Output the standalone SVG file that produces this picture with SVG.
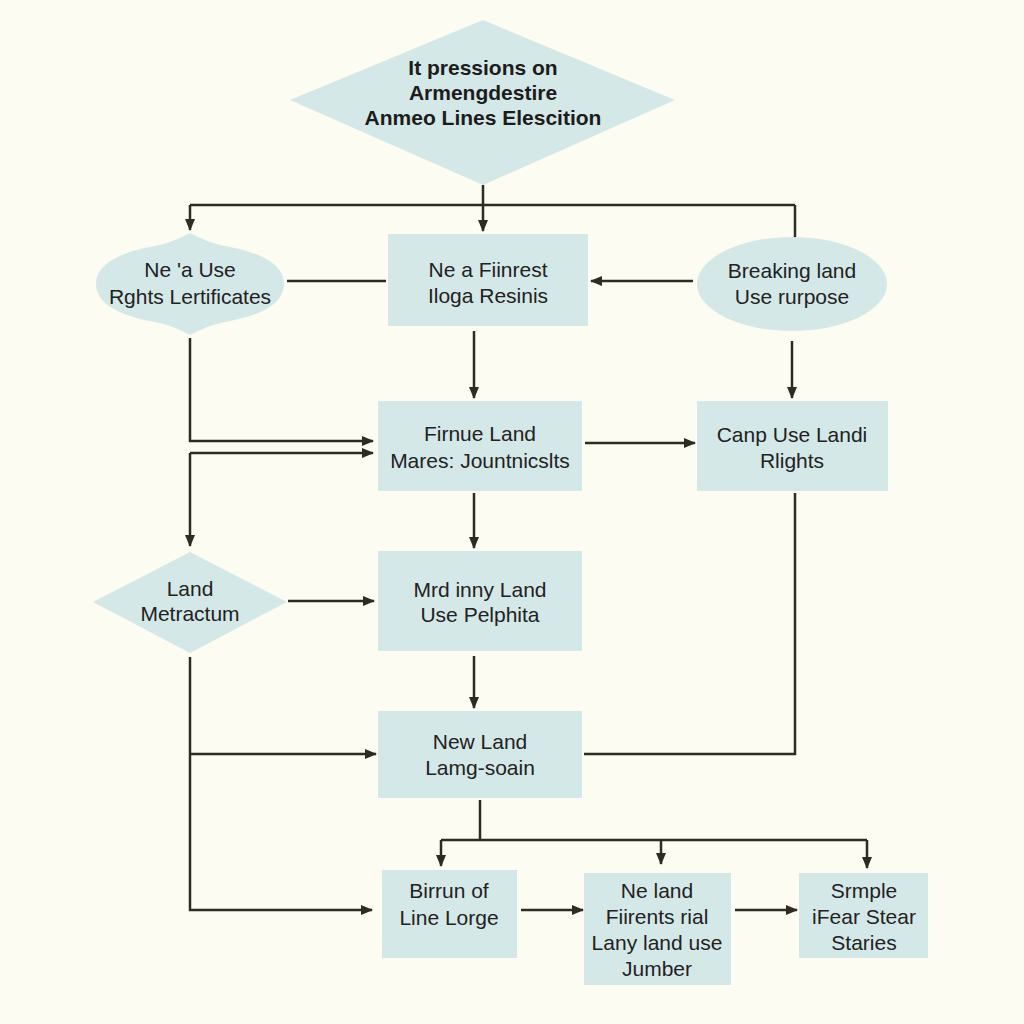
<svg xmlns="http://www.w3.org/2000/svg" width="1024" height="1024" viewBox="0 0 1024 1024">
<defs>
<marker id="ah" viewBox="0 0 12 10" refX="11" refY="5" markerWidth="12" markerHeight="10" markerUnits="userSpaceOnUse" orient="auto">
<path d="M0,0 L12,5 L0,10 Z" fill="#2e2a24"/>
</marker>
<style>
.n{fill:#d5e8e8;stroke:none}
.t{font-family:"Liberation Sans",Arial,sans-serif;font-size:21px;fill:#222;text-anchor:middle}
.tb{font-family:"Liberation Sans",Arial,sans-serif;font-size:21px;font-weight:bold;fill:#1c1c1c;text-anchor:middle}
.c{fill:none;stroke:#2e2a24;stroke-width:2.5}
.a{marker-end:url(#ah)}
</style>
</defs>
<rect width="1024" height="1024" fill="#fcfcf3"/>
<g id="connectors">
<path class="c a" d="M483,185 V231"/>
<path class="c a" d="M190,205 H795 M190,205 V230"/>
<path class="c" d="M795,205 V238"/>
<path class="c" d="M287,281 H386"/>
<path class="c a" d="M693,281 H591"/>
<path class="c a" d="M474,331 V398"/>
<path class="c a" d="M792,341 V398"/>
<path class="c a" d="M190,338 V441 H373"/>
<path class="c a" d="M190,453 H373"/>
<path class="c a" d="M190,453 V546"/>
<path class="c a" d="M585,443 H695"/>
<path class="c" d="M795,493 V754 H584"/>
<path class="c a" d="M474,493 V548"/>
<path class="c a" d="M288,601 H374"/>
<path class="c a" d="M474,656 V708"/>
<path class="c a" d="M190,657 V910 H372"/>
<path class="c a" d="M190,754 H376"/>
<path class="c" d="M480,800 V840 M441,840 H867"/>
<path class="c a" d="M441,840 V866"/>
<path class="c a" d="M661,840 V864"/>
<path class="c a" d="M867,840 V868"/>
<path class="c a" d="M521,910 H583"/>
<path class="c a" d="M735,910 H797"/>
</g>
<g id="n-top">
<polygon class="n" points="290,100 483,20 675,100 483,185"/>
<text class="tb" x="483" y="75">It pressions on</text>
<text class="tb" x="483" y="100">Armengdestire</text>
<text class="tb" x="483" y="125">Anmeo Lines Elescition</text>
</g>
<g id="n-cloud">
<path class="n" d="M96,284 C96,264 120,252 155,246 C170,243 180,238 190,233 C200,238 210,243 225,246 C260,252 284,264 284,284 C284,304 260,316 225,322 C210,325 200,330 190,335 C180,330 170,325 155,322 C120,316 96,304 96,284 Z"/>
<text class="t" x="190" y="277">Ne 'a Use</text>
<text class="t" x="190" y="304">Rghts Lertificates</text>
</g>
<g id="n-b1">
<rect class="n" x="388" y="234" width="200" height="92"/>
<text class="t" x="488" y="277">Ne a Fiinrest</text>
<text class="t" x="488" y="303">Iloga Resinis</text>
</g>
<g id="n-ell">
<ellipse class="n" cx="792" cy="284" rx="95" ry="47"/>
<text class="t" x="792" y="278">Breaking land</text>
<text class="t" x="792" y="304">Use rurpose</text>
</g>
<g id="n-b2">
<rect class="n" x="378" y="401" width="204" height="90"/>
<text class="t" x="480" y="441">Firnue Land</text>
<text class="t" x="480" y="468">Mares: Jountnicslts</text>
</g>
<g id="n-b3">
<rect class="n" x="697" y="401" width="191" height="90"/>
<text class="t" x="792" y="442">Canp Use Landi</text>
<text class="t" x="792" y="468">Rlights</text>
</g>
<g id="n-d2">
<polygon class="n" points="93,602 190,552 287,602 190,653"/>
<text class="t" x="190" y="596">Land</text>
<text class="t" x="190" y="621">Metractum</text>
</g>
<g id="n-b4">
<rect class="n" x="378" y="551" width="204" height="100"/>
<text class="t" x="480" y="597">Mrd inny Land</text>
<text class="t" x="480" y="622">Use Pelphita</text>
</g>
<g id="n-b5">
<rect class="n" x="378" y="711" width="204" height="87"/>
<text class="t" x="480" y="749">New Land</text>
<text class="t" x="480" y="775">Lamg-soain</text>
</g>
<g id="n-b6">
<rect class="n" x="382" y="870" width="135" height="88"/>
<text class="t" x="449" y="898">Birrun of</text>
<text class="t" x="449" y="925">Line Lorge</text>
</g>
<g id="n-b7">
<rect class="n" x="584" y="873" width="147" height="112"/>
<text class="t" x="657" y="898">Ne land</text>
<text class="t" x="657" y="924">Fiirents rial</text>
<text class="t" x="657" y="950">Lany land use</text>
<text class="t" x="657" y="976">Jumber</text>
</g>
<g id="n-b8">
<rect class="n" x="799" y="873" width="129" height="85"/>
<text class="t" x="864" y="898">Srmple</text>
<text class="t" x="864" y="924">iFear Stear</text>
<text class="t" x="864" y="950">Staries</text>
</g>
</svg>
